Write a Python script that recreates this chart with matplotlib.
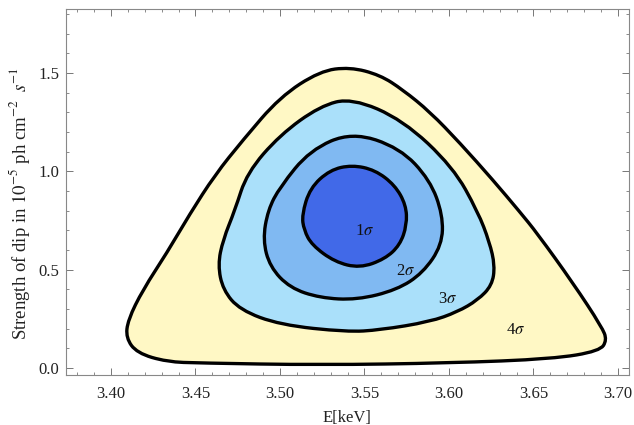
import matplotlib
matplotlib.use("Agg")
import matplotlib.pyplot as plt
from matplotlib.path import Path
from matplotlib.patches import PathPatch
from matplotlib.ticker import MultipleLocator

plt.rcParams['font.family'] = ['Liberation Serif', 'DejaVu Serif']
plt.rcParams['mathtext.fontset'] = 'stix'

# contour points (E in keV, strength in 1e-5 ph cm^-2 s^-1)
e_4s = [3.4089, 3.4101, 3.4189, 3.4331, 3.4467, 3.4615, 3.4781, 3.5000, 3.5237, 3.5414,
        3.5592, 3.5728, 3.5888, 3.6065, 3.6260, 3.6420, 3.6521, 3.6734, 3.6905, 3.6935,
        3.6893, 3.6615, 3.6006, 3.5237, 3.4527, 3.4331, 3.4154]
s_4s = [0.153, 0.244, 0.397, 0.585, 0.783, 0.981, 1.159, 1.378, 1.510, 1.530,
        1.490, 1.414, 1.302, 1.144, 0.956, 0.793, 0.686, 0.432, 0.208, 0.142,
        0.086, 0.046, 0.025, 0.015, 0.025, 0.031, 0.076]

e_3s = [3.4633, 3.4663, 3.4734, 3.4805, 3.5000, 3.5237, 3.5426, 3.5728, 3.6024, 3.6172,
        3.6240, 3.6272, 3.6255, 3.6170, 3.6050, 3.5888, 3.5592, 3.5396, 3.5000, 3.4763,
        3.4663]
s_3s = [0.524, 0.651, 0.803, 0.992, 1.185, 1.332, 1.373, 1.261, 1.022, 0.793,
        0.640, 0.520, 0.420, 0.345, 0.285, 0.235, 0.193, 0.183, 0.219, 0.295,
        0.397]

e_2s = [3.4899, 3.4929, 3.5000, 3.5178, 3.5426, 3.5710, 3.5888, 3.5964, 3.5959, 3.5846,
        3.5692, 3.5456, 3.5237, 3.5059, 3.4941]
s_2s = [0.651, 0.803, 0.920, 1.108, 1.200, 1.119, 0.956, 0.778, 0.625, 0.483,
        0.397, 0.346, 0.356, 0.407, 0.514]

e_1s = [3.5130, 3.5178, 3.5296, 3.5426, 3.5562, 3.5680, 3.5746, 3.5751, 3.5710, 3.5621,
        3.5473, 3.5325, 3.5189, 3.5142]
s_1s = [0.778, 0.915, 1.007, 1.032, 1.007, 0.930, 0.829, 0.727, 0.625, 0.554,
        0.508, 0.539, 0.625, 0.702]

labels = ['1$\\sigma$', '2$\\sigma$', '3$\\sigma$', '4$\\sigma$']
label_e = [3.5503, 3.5746, 3.5994, 3.6396]
label_s = [0.697, 0.493, 0.351, 0.193]

colors = ['#4169E8', '#80B9F2', '#AAE0FA', '#FFF8C5']


def smooth_path(xs, ys):
    # closed quadratic bezier through midpoints, read points act as control points
    n = len(xs)
    pts = list(zip(xs, ys))
    mids = [((pts[i][0] + pts[(i + 1) % n][0]) / 2, (pts[i][1] + pts[(i + 1) % n][1]) / 2)
            for i in range(n)]
    verts = [mids[-1]]
    codes = [Path.MOVETO]
    for i in range(n):
        verts += [pts[i], mids[i]]
        codes += [Path.CURVE3, Path.CURVE3]
    verts.append(mids[-1])
    codes.append(Path.CLOSEPOLY)
    return Path(verts, codes)


fig = plt.figure(figsize=(6.34, 4.25), dpi=100)
ax = fig.add_axes([0.104, 0.1176, 0.888, 0.861])

contours = [(e_4s, s_4s), (e_3s, s_3s), (e_2s, s_2s), (e_1s, s_1s)]
for (xs, ys), c in zip(contours, colors[::-1]):
    ax.add_patch(PathPatch(smooth_path(xs, ys), facecolor=c, edgecolor='black',
                           lw=2.4, joinstyle='round'))

for t, x, y in zip(labels, label_e, label_s):
    ax.text(x, y, t, fontsize=12, ha='center', va='center', color='#111111')

ax.set_xlim(3.3734, 3.7065)
ax.set_ylim(-0.036, 1.825)
ax.xaxis.set_major_locator(MultipleLocator(0.05))
ax.xaxis.set_minor_locator(MultipleLocator(0.01))
ax.yaxis.set_major_locator(MultipleLocator(0.5))
ax.yaxis.set_minor_locator(MultipleLocator(0.1))
ax.xaxis.set_major_formatter(plt.FuncFormatter(lambda v, p: '%.2f' % v))
ax.yaxis.set_major_formatter(plt.FuncFormatter(lambda v, p: '%.1f' % v))
ax.tick_params(which='both', direction='in', top=True, right=True, color='#777777',
               labelsize=12, labelcolor='#222222')
ax.tick_params(which='major', length=5, width=0.7)
ax.tick_params(which='minor', length=2.5, width=0.6)
ax.tick_params(axis='x', which='major', pad=8)
ax.tick_params(axis='y', which='major', pad=5)
for sp in ax.spines.values():
    sp.set_color('#888888')
    sp.set_linewidth(0.8)

ax.set_xlabel('E[keV]', fontsize=12, color='#222222')
ax.set_ylabel('Strength of dip in $10^{-5}$ ph cm$^{-2}$ $\\;s^{-1}$', fontsize=13.5,
              color='#222222')
ax.xaxis.set_label_coords(0.5, -0.095)
ax.yaxis.set_label_coords(-0.06, 0.47)

fig.savefig('out.png', dpi=100)
